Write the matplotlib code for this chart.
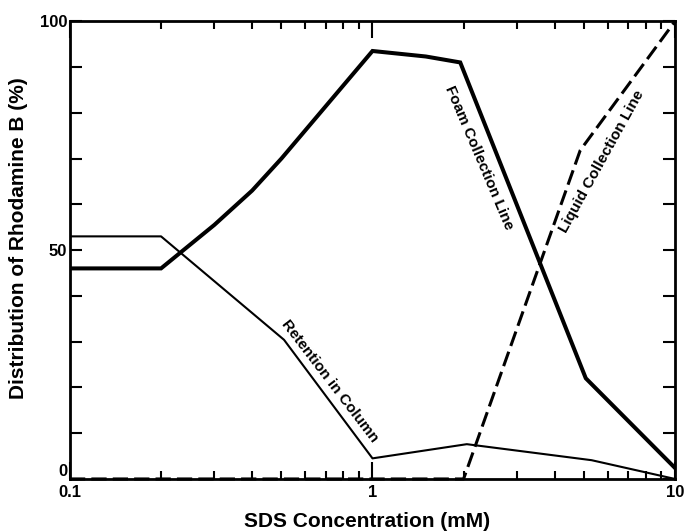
import matplotlib
matplotlib.use("Agg")
import matplotlib.pyplot as plt
from matplotlib.ticker import FixedLocator, NullFormatter

plt.rcParams['font.family'] = ['Liberation Sans', 'DejaVu Sans']

# SDS concentration (mM) and distribution of rhodamine B (%)
foam_conc = [0.1, 0.2, 0.3, 0.4, 0.5, 1.0, 1.5, 1.95, 5.07, 10]
foam_pct = [46, 46, 55.5, 63, 70, 93.5, 92.3, 91, 22, 2.4]

ret_conc = [0.1, 0.2, 0.51, 1.0, 2.05, 5.3, 10]
ret_pct = [53, 53, 30.4, 4.5, 7.6, 4.1, 0]

liq_conc = [0.1, 2.0, 4.86, 10]
liq_pct = [0, 0, 71.8, 100]

yticks = [0, 10, 20, 30, 40, 50, 60, 70, 80, 90, 100]
ytick_labels = ['0', '', '', '', '', '50', '', '', '', '', '100']
xticks = [0.1, 1, 10]
xtick_labels = ['0.1', '1', '10']

fig = plt.figure(figsize=(6.86, 5.31), dpi=100)
ax = fig.add_axes([0.102, 0.098, 0.882, 0.862])

ax.plot(foam_conc, foam_pct, color='black', lw=2.9, solid_joinstyle='miter')
ax.plot(ret_conc, ret_pct, color='black', lw=1.5)
ax.plot(liq_conc, liq_pct, color='black', lw=2.2, linestyle=(0, (5, 2)),
        clip_on=False)

ax.set_xscale('log')
ax.set_xlim(0.1, 10)
ax.set_ylim(0, 100)

ax.set_xticks(xticks)
ax.set_xticklabels(xtick_labels)
ax.xaxis.set_minor_locator(FixedLocator([m * d for d in (0.1, 1) for m in range(2, 10)]))
ax.xaxis.set_minor_formatter(NullFormatter())
ax.set_yticks(yticks)
ax.set_yticklabels(ytick_labels)

ax.tick_params(axis='x', which='major', direction='in', length=12, width=1.5,
               top=True, labelsize=12, pad=4)
ax.tick_params(axis='x', which='minor', direction='in', length=6, width=1.5, top=True)
ax.tick_params(axis='y', which='major', direction='in', length=8.5, width=1.5,
               right=True, labelsize=12, pad=2)
for lab in ax.get_xticklabels() + ax.get_yticklabels():
    lab.set_fontweight('bold')
# the "0" sits just above the bottom spine, clear of "0.1"
ax.get_yticklabels()[0].set_verticalalignment('bottom')

for s in ax.spines.values():
    s.set_linewidth(2.0)

ax.set_xlabel('SDS Concentration (mM)', fontsize=15, fontweight='bold')
ax.xaxis.set_label_coords(0.491, -0.072)
ax.set_ylabel('Distribution of Rhodamine B (%)', fontsize=15, fontweight='bold')
ax.yaxis.set_label_coords(-0.069, 0.526)

ax.text(2.25, 70.1, 'Foam Collection Line', rotation=-67, fontsize=11,
        fontweight='bold', ha='center', va='center', rotation_mode='anchor')
ax.text(5.74, 69.4, 'Liquid Collection Line', rotation=61, fontsize=11,
        fontweight='bold', ha='center', va='center', rotation_mode='anchor')
ax.text(0.724, 21.3, 'Retention in Column', rotation=-52.6, fontsize=11,
        fontweight='bold', ha='center', va='center', rotation_mode='anchor')

fig.savefig('out.png', dpi=100)
